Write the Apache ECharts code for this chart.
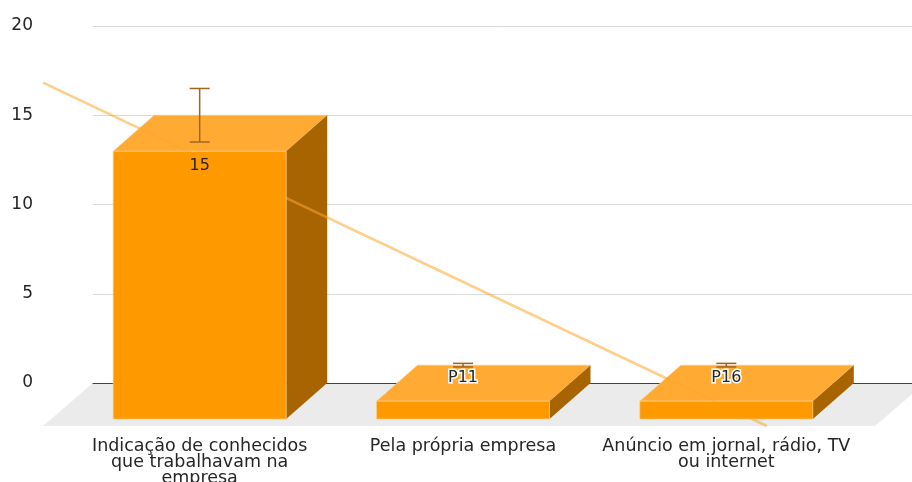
<!DOCTYPE html>
<html>
<head>
<meta charset="utf-8">
<script src="https://cdn.jsdelivr.net/npm/echarts@6/dist/echarts.min.js"></script>
<style>
  html, body { margin: 0; padding: 0; background: #ffffff; }
  #chart { width: 912px; height: 482px; }
</style>
</head>
<body>
<div id="chart"></div>
<script>
// ---- data ----
const categories = [
  'Indicação de conhecidos\nque trabalhavam na\nempresa',
  'Pela própria empresa',
  'Anúncio em jornal, rádio, TV\nou internet'
];
const values = [15, 1, 1];
const barLabels = ['15', 'P11', 'P16'];
const errorPercent = 10;          // error bars: ± percent of value
const yMin = 0, yMax = 20, yStep = 5;

// ---- layout / style ----
const FONT = 'DejaVu Sans';
const PLOT_LEFT = 93, PLOT_TOP = 26, PLOT_BOTTOM = 99;   // back wall of the 3D box
const BAR_GRID_LEFT = 68, BAR_GRID_RIGHT = 54;          // category bands (front plane)
const BAR_DX = 41, BAR_DY = 36;                         // bar extrusion
const FLOOR_DX = 50, FLOOR_DY = 43, FLOOR_OVERHANG = 13;
const BAR_WIDTH_RATIO = 0.657;
const COLORS = {
  front: '#ff9900',
  top: '#ffab33',
  side: '#a86400',
  edge: 'rgba(255,205,140,0.85)',
  floor: '#ebebeb',
  error: '#a0661e',
  trend: 'rgba(255,165,40,0.55)',
  text: '#262626',
  grid: '#d9d9d9',
  zero: '#444444'
};

// least-squares line through (index, value)
function linearFit(ys) {
  const n = ys.length;
  let sx = 0, sy = 0, sxx = 0, sxy = 0;
  ys.forEach((y, x) => { sx += x; sy += y; sxx += x * x; sxy += x * y; });
  const slope = (n * sxy - sx * sy) / (n * sxx - sx * sx);
  const intercept = (sy - slope * sx) / n;
  return x => intercept + slope * x;
}
const trend = linearFit(values);

function barGeom(api) {
  const i = api.value(0), v = api.value(1);
  const top = api.coord([i, v]);
  const base = api.coord([i, 0]);
  const w = api.size([1, 0])[0] * BAR_WIDTH_RATIO;
  return {
    i, v, cx: top[0],
    x0: top[0] - w / 2, x1: top[0] + w / 2,
    yTop: top[1], yBase: base[1], w
  };
}

// top + side faces (drawn beneath the trend line)
function renderBarBack(params, api) {
  const g = barGeom(api);
  return {
    type: 'group',
    children: [
      {
        type: 'polygon',
        shape: { points: [
          [g.x0, g.yTop + BAR_DY], [g.x0 + BAR_DX, g.yTop],
          [g.x1 + BAR_DX, g.yTop], [g.x1, g.yTop + BAR_DY]
        ] },
        style: { fill: COLORS.top, stroke: COLORS.edge, lineWidth: 0.8 }
      },
      {
        type: 'polygon',
        shape: { points: [
          [g.x1, g.yTop + BAR_DY], [g.x1 + BAR_DX, g.yTop],
          [g.x1 + BAR_DX, g.yBase], [g.x1, g.yBase + BAR_DY]
        ] },
        style: { fill: COLORS.side }
      }
    ]
  };
}

// front faces, error bars and value labels
function renderBarFront(params, api) {
  const g = barGeom(api);
  const frontTop = g.yTop + BAR_DY;
  const frontBottom = g.yBase + BAR_DY;
  const errHi = api.coord([g.i, g.v * (1 + errorPercent / 100)])[1];
  const errLo = api.coord([g.i, g.v * (1 - errorPercent / 100)])[1];
  const cap = 10;
  const inside = frontBottom - frontTop > 30;
  return {
    type: 'group',
    children: [
      {
        type: 'rect',
        shape: { x: g.x0, y: frontTop, width: g.w, height: frontBottom - frontTop },
        style: { fill: COLORS.front, stroke: COLORS.edge, lineWidth: 0.8 }
      },
      {
        type: 'polyline',
        shape: { points: [[g.cx, errHi], [g.cx, errLo]] },
        style: { stroke: COLORS.error, lineWidth: 1.5, fill: null }
      },
      {
        type: 'polyline',
        shape: { points: [[g.cx - cap, errHi], [g.cx + cap, errHi]] },
        style: { stroke: COLORS.error, lineWidth: 1.5, fill: null }
      },
      {
        type: 'polyline',
        shape: { points: [[g.cx - cap, errLo], [g.cx + cap, errLo]] },
        style: { stroke: COLORS.error, lineWidth: 1.5, fill: null }
      },
      {
        type: 'text',
        x: g.cx,
        y: inside ? frontTop + 15 : frontTop - 23,
        style: {
          text: barLabels[g.i],
          fill: COLORS.text,
          font: '16px "' + FONT + '"',
          align: 'center',
          verticalAlign: 'middle',
          stroke: inside ? null : '#ffffff',
          lineWidth: inside ? 0 : 3
        }
      }
    ]
  };
}

// floor of the 3D box
function renderFloor(params, api) {
  const cs = params.coordSys;
  const by = cs.y + cs.height;
  const xr = cs.x + cs.width + FLOOR_OVERHANG;
  return {
    type: 'polygon',
    shape: { points: [
      [cs.x, by], [xr, by], [xr - FLOOR_DX, by + FLOOR_DY], [cs.x - FLOOR_DX, by + FLOOR_DY]
    ] },
    style: { fill: COLORS.floor }
  };
}

// trend line, clipped to the front edge of the box
function renderTrend(params, api) {
  const n = values.length;
  const a = api.coord([0, trend(0)]);
  const b = api.coord([n - 1, trend(n - 1)]);
  const m = (b[1] - a[1]) / (b[0] - a[0]);
  const left = PLOT_LEFT - FLOOR_DX;
  const bottom = 482 - PLOT_BOTTOM + FLOOR_DY;
  const right = 912;
  const p0 = [left, a[1] + m * (left - a[0])];
  let p1;
  if (m > 0) {
    const xb = a[0] + (bottom - a[1]) / m;
    p1 = xb < right ? [xb, bottom] : [right, a[1] + m * (right - a[0])];
  } else {
    p1 = [right, a[1] + m * (right - a[0])];
  }
  return {
    type: 'line',
    shape: { x1: p0[0], y1: p0[1], x2: p1[0], y2: p1[1] },
    style: { stroke: COLORS.trend, lineWidth: 2.5 }
  };
}

const barData = values.map((v, i) => [i, v]);

const chart = echarts.init(document.getElementById('chart'), null, { renderer: 'canvas' });
chart.setOption({
  animation: false,
  backgroundColor: '#ffffff',
  textStyle: { fontFamily: FONT },
  grid: [
    { left: PLOT_LEFT, right: 0, top: PLOT_TOP, bottom: PLOT_BOTTOM,
      containLabel: false, outerBoundsMode: 'none' },
    { left: BAR_GRID_LEFT, right: BAR_GRID_RIGHT, top: PLOT_TOP, bottom: PLOT_BOTTOM,
      containLabel: false, outerBoundsMode: 'none' }
  ],
  xAxis: [
    {
      gridIndex: 0, type: 'value', min: 0, max: 1,
      axisLine: { show: true, onZero: true, lineStyle: { color: COLORS.zero, width: 1 } },
      axisTick: { show: false }, axisLabel: { show: false }, splitLine: { show: false }
    },
    {
      gridIndex: 1, type: 'category', data: categories,
      axisLine: { show: false }, axisTick: { show: false },
      axisLabel: {
        margin: 55, color: COLORS.text, fontFamily: FONT, fontSize: 17.5,
        lineHeight: 16, interval: 0, align: 'center', verticalAlign: 'top'
      }
    }
  ],
  yAxis: [
    {
      gridIndex: 0, type: 'value', min: yMin, max: yMax, interval: yStep,
      axisLine: { show: false }, axisTick: { show: false },
      axisLabel: { margin: 60, color: COLORS.text, fontFamily: FONT, fontSize: 17, align: 'right' },
      splitLine: { show: true, lineStyle: { color: COLORS.grid, width: 1 } }
    },
    {
      gridIndex: 1, type: 'value', min: yMin, max: yMax, interval: yStep,
      show: false, splitLine: { show: false }
    }
  ],
  series: [
    {
      type: 'custom', name: 'floor', xAxisIndex: 0, yAxisIndex: 0, z: -1,
      data: [[0, 0]], renderItem: renderFloor, silent: true
    },
    {
      type: 'custom', name: 'bars-back', xAxisIndex: 1, yAxisIndex: 1, z: 2,
      data: barData, renderItem: renderBarBack
    },
    {
      type: 'custom', name: 'trend', xAxisIndex: 1, yAxisIndex: 1, z: 3,
      data: [[0, 0]], renderItem: renderTrend, silent: true
    },
    {
      type: 'custom', name: 'bars-front', xAxisIndex: 1, yAxisIndex: 1, z: 4,
      data: barData, renderItem: renderBarFront
    }
  ]
});
</script>
</body>
</html>
